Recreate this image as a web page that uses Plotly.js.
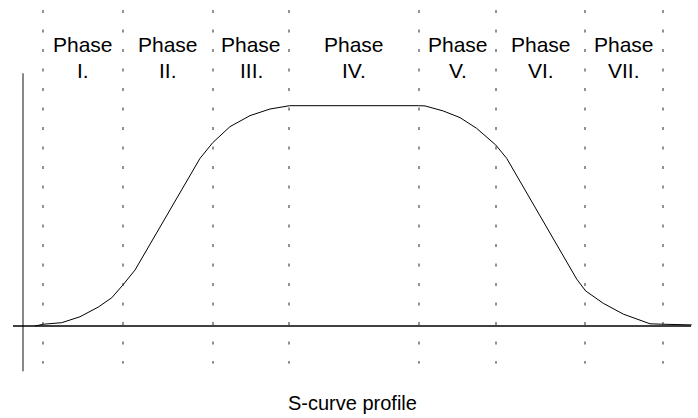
<!DOCTYPE html>
<html>
<head>
<meta charset="utf-8">
<script src="https://cdn.plot.ly/plotly-3.0.1.min.js"></script>
<style>html,body{margin:0;padding:0;background:#fff;}#chart{width:698px;height:418px;}</style>
</head>
<body>
<div id="chart"></div>
<script>
// time (arbitrary units) and normalized velocity of the S-curve profile
const timeValues = [-8, 0.3, 18.7, 37, 55.3, 68.7, 79.3, 92, 157, 169.7, 187, 207, 227, 246.7,
  375.3, 382, 400.3, 417, 433.7, 452.7, 463.7, 533.7, 542.7, 560.3, 580.3, 607, 620.3, 648.7];
const velocityValues = [0, 0.008, 0.015, 0.042, 0.086, 0.128, 0.183, 0.254, 0.761, 0.832, 0.905, 0.955, 0.985, 1.0,
  1.0, 0.999, 0.976, 0.946, 0.897, 0.822, 0.761, 0.213, 0.159, 0.103, 0.054, 0.010, 0.008, 0.005];
// phase boundaries (time units)
const phaseBoundaries = [0, 80, 170, 246, 376, 453, 542, 620];
const phaseWord = 'Phase';
const phaseNumerals = ['I.', 'II.', 'III.', 'IV.', 'V.', 'VI.', 'VII.'];
const chartTitle = 'S-curve profile';

const font = 'Liberation Sans, Arial, sans-serif';
const shapes = [];
phaseBoundaries.forEach(b => {
  shapes.push({type: 'line', xref: 'x', yref: 'paper', x0: b, x1: b, y0: 0.976, y1: 0.13,
    line: {color: '#222', width: 1, dash: '3px,16.5px'}});
});
// vertical axis (gray)
shapes.push({type: 'line', xref: 'x', yref: 'paper', x0: -20, x1: -20, y0: 0.825, y1: 0.112,
  line: {color: '#888', width: 2}});
// horizontal axis
shapes.push({type: 'line', xref: 'x', yref: 'y', x0: -30, x1: 648, y0: 0, y1: 0,
  line: {color: '#000', width: 1.5}});

const annotations = [];
phaseNumerals.forEach((n, i) => {
  const cx = (phaseBoundaries[i] + phaseBoundaries[i + 1]) / 2;
  annotations.push({x: cx, y: 1 - 45 / 418, xref: 'x', yref: 'paper', text: phaseWord, showarrow: false,
    xanchor: 'center', yanchor: 'middle', font: {family: font, size: 21, color: '#000'}});
  annotations.push({x: cx, y: 1 - 70 / 418, xref: 'x', yref: 'paper', text: n, showarrow: false,
    xanchor: 'center', yanchor: 'middle', font: {family: font, size: 21, color: '#000'}});
});
annotations.push({x: 309.5, y: 1 - 403 / 418, xref: 'x', yref: 'paper', text: chartTitle, showarrow: false,
  xanchor: 'center', yanchor: 'middle', font: {family: 'Liberation Sans Narrow, ' + font, size: 20, color: '#000'}});

const trace = {x: timeValues, y: velocityValues, type: 'scatter', mode: 'lines',
  line: {color: '#000', width: 1}, hoverinfo: 'skip'};

const layout = {
  width: 698, height: 418,
  margin: {l: 0, r: 0, t: 0, b: 0},
  paper_bgcolor: '#fff', plot_bgcolor: '#fff',
  showlegend: false,
  xaxis: {range: [-43, 655], visible: false, fixedrange: true},
  yaxis: {range: [-0.4176, 1.4798], visible: false, fixedrange: true},
  shapes: shapes,
  annotations: annotations
};
Plotly.newPlot('chart', [trace], layout, {staticPlot: true, displayModeBar: false});
</script>
</body>
</html>
